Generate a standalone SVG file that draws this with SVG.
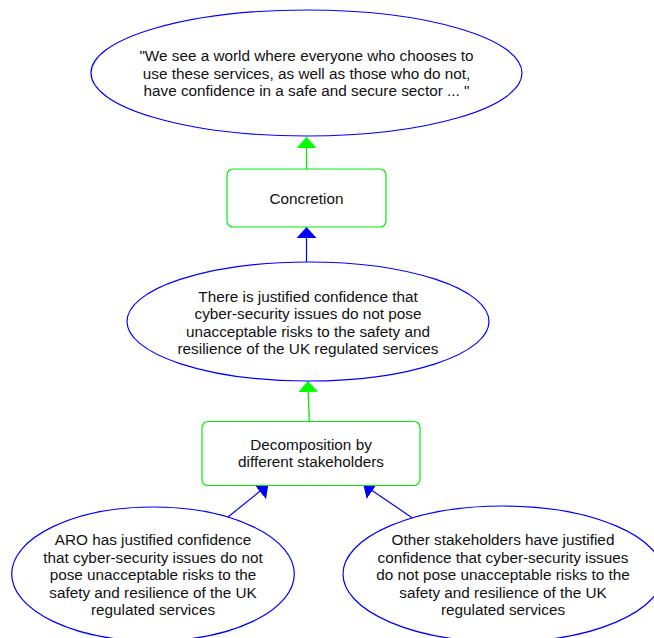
<svg xmlns="http://www.w3.org/2000/svg" width="654" height="638" viewBox="0 0 654 638">
<style>
  .ell { fill: #ffffff; stroke: #0000ff; stroke-width: 1.2; }
  .box { fill: #ffffff; stroke: #00ee00; stroke-width: 1.2; }
  text { font-family: "Liberation Sans", Arial, sans-serif; font-size: 15.3px; fill: #111111; text-anchor: middle; }
  .cg { stroke: #00ee00; stroke-width: 1.3; fill: none; }
  .cb { stroke: #0000ff; stroke-width: 1.2; fill: none; }
</style>
<defs>
  <marker id="ag" markerUnits="userSpaceOnUse" markerWidth="12" markerHeight="20" refX="11" refY="10" orient="auto">
    <path d="M0,0 L11,10 L0,20 z" fill="#00ff00"/>
  </marker>
  <marker id="ab" markerUnits="userSpaceOnUse" markerWidth="12" markerHeight="20" refX="11" refY="10" orient="auto">
    <path d="M0,0 L11,10 L0,20 z" fill="#0000ff"/>
  </marker>
</defs>
<rect width="654" height="638" fill="#ffffff"/>
<g id="connectors">
  <line class="cg" x1="306.5" y1="169" x2="306.5" y2="137" marker-end="url(#ag)"/>
  <line class="cb" x1="306.5" y1="262" x2="306.5" y2="227" marker-end="url(#ab)"/>
  <line class="cg" x1="309.3" y1="421" x2="307.8" y2="381" marker-end="url(#ag)"/>
  <line class="cb" x1="228" y1="517" x2="268.3" y2="484.5" marker-end="url(#ab)"/>
  <line class="cb" x1="412" y1="517.7" x2="363.3" y2="484.5" marker-end="url(#ab)"/>
</g>
<g id="vision">
  <ellipse class="ell" cx="306.5" cy="73" rx="215.5" ry="63"/>
  <text x="306.5" y="61">"We see a world where everyone who chooses to</text>
  <text x="306.5" y="78.6">use these services, as well as those who do not,</text>
  <text x="306.5" y="96.2">have confidence in a safe and secure sector ... "</text>
</g>
<g id="concretion">
  <rect class="box" x="227" y="169" width="159" height="58" rx="6"/>
  <text x="306.5" y="204">Concretion</text>
</g>
<g id="claim">
  <ellipse class="ell" cx="308" cy="321.5" rx="181" ry="59.5"/>
  <text x="308" y="301.5">There is justified confidence that</text>
  <text x="308" y="319">cyber-security issues do not pose</text>
  <text x="308" y="336.5">unacceptable risks to the safety and</text>
  <text x="308" y="354">resilience of the UK regulated services</text>
</g>
<g id="decomposition">
  <rect class="box" x="202" y="421.5" width="218" height="64" rx="6"/>
  <text x="311" y="450">Decomposition by</text>
  <text x="311" y="467.3">different stakeholders</text>
</g>
<g id="aro">
  <ellipse class="ell" cx="153" cy="574" rx="141.3" ry="67"/>
  <text x="153" y="545">ARO has justified confidence</text>
  <text x="153" y="562.5">that cyber-security issues do not</text>
  <text x="153" y="580">pose unacceptable risks to the</text>
  <text x="153" y="597.5">safety and resilience of the UK</text>
  <text x="153" y="615">regulated services</text>
</g>
<g id="others">
  <ellipse class="ell" cx="503" cy="574" rx="160" ry="68"/>
  <text x="503" y="545">Other stakeholders have justified</text>
  <text x="503" y="562.5">confidence that cyber-security issues</text>
  <text x="503" y="580">do not pose unacceptable risks to the</text>
  <text x="503" y="597.5">safety and resilience of the UK</text>
  <text x="503" y="615">regulated services</text>
</g>
</svg>
